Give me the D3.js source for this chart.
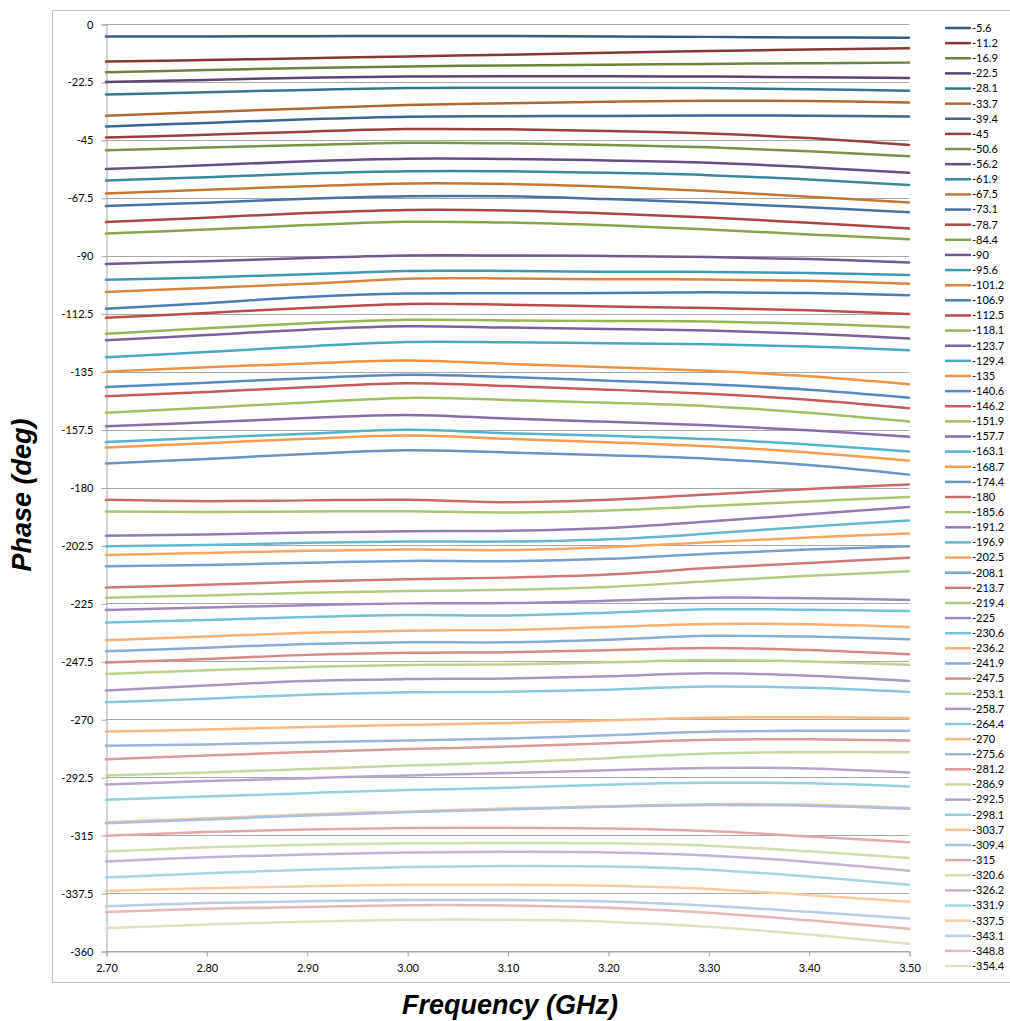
<!DOCTYPE html>
<html>
<head>
<meta charset="utf-8">
<script src="https://cdn.jsdelivr.net/npm/d3@7"></script>
<style>
body { margin: 0; background: #fff; }
text { font-family: Lato, "Liberation Sans", sans-serif; fill: #000; }
</style>
</head>
<body>
<script>
var freqs = [2.70, 2.80, 2.90, 3.00, 3.10, 3.20, 3.30, 3.40, 3.50];
var xTicks = [2.70, 2.80, 2.90, 3.00, 3.10, 3.20, 3.30, 3.40, 3.50];
var yTicks = [0, -22.5, -45, -67.5, -90, -112.5, -135, -157.5, -180, -202.5, -225, -247.5, -270, -292.5, -315, -337.5, -360];

var seriesNames = ["-5.6", "-11.2", "-16.9", "-22.5", "-28.1", "-33.7", "-39.4", "-45", "-50.6", "-56.2",
	"-61.9", "-67.5", "-73.1", "-78.7", "-84.4", "-90", "-95.6", "-101.2", "-106.9", "-112.5",
	"-118.1", "-123.7", "-129.4", "-135", "-140.6", "-146.2", "-151.9", "-157.7", "-163.1", "-168.7",
	"-174.4", "-180", "-185.6", "-191.2", "-196.9", "-202.5", "-208.1", "-213.7", "-219.4", "-225",
	"-230.6", "-236.2", "-241.9", "-247.5", "-253.1", "-258.7", "-264.4", "-270", "-275.6", "-281.2",
	"-286.9", "-292.5", "-298.1", "-303.7", "-309.4", "-315", "-320.6", "-326.2", "-331.9", "-337.5",
	"-343.1", "-348.8", "-354.4"];

// measured phase (deg) per series, one value per entry of freqs
var phaseRows = [
	[-4.9, -4.85, -4.75, -4.65, -4.7, -4.85, -5.0, -5.2, -5.3],
	[-14.6, -14.0, -13.3, -12.6, -11.9, -11.2, -10.5, -9.9, -9.4],
	[-18.7, -17.9, -17.1, -16.5, -16.1, -15.8, -15.5, -15.2, -15.0],
	[-22.5, -21.7, -20.9, -20.4, -20.3, -20.3, -20.4, -20.7, -21.0],
	[-27.4, -26.5, -25.6, -24.9, -24.8, -24.8, -24.9, -25.3, -25.9],
	[-35.6, -34.2, -32.8, -31.5, -30.8, -30.2, -29.8, -29.9, -30.5],
	[-39.8, -38.4, -37.0, -36.0, -35.8, -35.7, -35.5, -35.6, -35.9],
	[-44.1, -43.0, -41.8, -40.8, -40.9, -41.6, -42.5, -44.3, -47.0],
	[-49.0, -48.0, -47.0, -46.1, -46.3, -47.0, -47.9, -49.4, -51.4],
	[-56.3, -54.9, -53.3, -52.3, -52.4, -53.0, -53.9, -55.6, -57.8],
	[-60.8, -59.5, -58.1, -57.2, -57.2, -57.8, -58.7, -60.4, -62.5],
	[-65.8, -64.4, -63.0, -61.9, -62.1, -63.2, -64.9, -67.1, -69.3],
	[-70.7, -69.4, -67.9, -66.9, -66.9, -68.0, -69.4, -71.2, -73.1],
	[-76.9, -75.2, -73.4, -72.2, -72.4, -73.6, -75.1, -77.2, -79.4],
	[-81.4, -79.8, -78.1, -76.8, -77.1, -78.2, -79.8, -81.7, -83.6],
	[-93.2, -92.1, -90.9, -89.9, -89.9, -90.1, -90.5, -91.3, -92.6],
	[-99.3, -98.4, -97.2, -95.9, -95.9, -96.2, -96.3, -96.7, -97.5],
	[-104.1, -102.5, -100.9, -98.9, -98.8, -99.1, -99.2, -99.7, -100.9],
	[-110.6, -108.4, -106.0, -104.7, -104.6, -104.5, -104.2, -104.5, -105.3],
	[-114.1, -112.2, -110.3, -108.7, -109.0, -109.7, -110.3, -111.2, -112.6],
	[-120.3, -118.2, -116.2, -114.9, -115.1, -115.3, -115.5, -116.4, -117.8],
	[-122.8, -120.8, -118.7, -117.4, -117.9, -118.4, -119.0, -120.3, -122.1],
	[-129.4, -127.4, -125.2, -123.5, -123.6, -124.0, -124.4, -125.2, -126.7],
	[-135.0, -133.3, -131.8, -130.7, -132.0, -133.3, -134.7, -136.8, -139.9],
	[-141.0, -139.3, -137.6, -136.2, -137.1, -138.5, -139.9, -142.0, -145.1],
	[-144.6, -142.9, -141.1, -139.5, -140.6, -142.0, -143.6, -145.9, -149.2],
	[-151.0, -149.0, -147.0, -145.2, -146.0, -147.1, -148.4, -151.0, -154.4],
	[-156.2, -154.7, -153.0, -151.8, -153.2, -154.5, -155.8, -157.8, -160.3],
	[-162.3, -160.7, -159.1, -157.6, -158.9, -159.9, -161.2, -163.3, -166.0],
	[-164.5, -162.8, -161.1, -159.8, -161.1, -162.4, -164.0, -166.4, -169.6],
	[-170.7, -168.9, -167.0, -165.5, -166.4, -167.5, -168.8, -171.3, -175.0],
	[-184.8, -185.3, -185.0, -184.8, -185.7, -184.8, -182.7, -180.6, -178.8],
	[-189.3, -189.5, -189.3, -189.2, -189.7, -188.9, -187.2, -185.4, -183.7],
	[-198.7, -198.3, -197.5, -197.0, -196.8, -195.7, -193.2, -190.4, -187.6],
	[-202.8, -202.3, -201.5, -201.0, -201.0, -200.1, -197.9, -195.2, -192.8],
	[-206.2, -205.4, -204.6, -204.1, -204.3, -203.2, -201.3, -199.4, -197.9],
	[-210.6, -210.1, -209.2, -208.5, -208.6, -207.7, -205.7, -204.1, -202.8],
	[-218.8, -217.8, -216.5, -215.6, -215.0, -213.8, -211.3, -209.3, -207.3],
	[-222.8, -221.9, -220.9, -220.2, -219.7, -218.6, -216.4, -214.3, -212.5],
	[-227.6, -226.6, -225.7, -225.0, -224.9, -224.0, -222.8, -223.0, -223.7],
	[-232.4, -231.5, -230.3, -229.5, -229.7, -228.6, -227.3, -227.5, -228.0],
	[-239.3, -237.9, -236.4, -235.6, -235.3, -234.2, -233.0, -233.1, -234.2],
	[-243.6, -242.2, -240.8, -240.1, -240.1, -239.1, -237.6, -237.9, -238.9],
	[-248.0, -246.6, -245.0, -244.2, -244.0, -243.2, -242.3, -243.1, -244.8],
	[-252.4, -251.0, -249.7, -248.9, -248.7, -247.9, -247.0, -247.6, -248.8],
	[-258.8, -256.9, -255.1, -254.4, -254.2, -253.3, -252.1, -253.1, -255.1],
	[-263.4, -262.0, -260.5, -259.5, -259.3, -258.5, -257.3, -257.8, -259.4],
	[-274.8, -274.0, -273.0, -272.2, -271.5, -270.4, -269.4, -269.2, -269.5],
	[-280.3, -279.8, -278.9, -278.3, -277.5, -276.2, -274.9, -274.5, -274.5],
	[-285.5, -284.1, -282.7, -281.6, -280.6, -279.3, -278.0, -277.8, -278.3],
	[-291.8, -290.7, -289.3, -288.0, -286.8, -285.1, -283.3, -282.8, -282.8],
	[-295.3, -294.0, -292.9, -291.8, -290.9, -289.8, -288.9, -289.1, -290.7],
	[-301.3, -300.0, -298.7, -297.5, -296.6, -295.4, -294.7, -294.9, -296.1],
	[-310.0, -308.5, -307.0, -305.8, -304.7, -303.8, -303.0, -303.2, -304.5],
	[-310.4, -308.9, -307.4, -306.1, -305.0, -304.0, -303.3, -303.6, -304.8],
	[-315.2, -313.8, -312.8, -312.2, -312.1, -312.4, -313.4, -315.5, -317.8],
	[-321.4, -319.7, -318.7, -318.2, -318.1, -318.2, -319.1, -321.3, -323.9],
	[-325.2, -323.6, -322.5, -321.7, -321.5, -321.7, -322.9, -325.4, -328.8],
	[-331.5, -329.8, -328.4, -327.4, -327.0, -327.2, -328.4, -331.1, -334.3],
	[-336.7, -335.6, -334.9, -334.3, -334.3, -334.7, -335.9, -338.3, -340.9],
	[-342.6, -341.4, -340.7, -340.2, -340.2, -340.8, -342.4, -344.8, -347.4],
	[-344.9, -343.6, -342.9, -342.2, -342.3, -343.2, -345.1, -348.1, -351.4],
	[-351.1, -349.7, -348.6, -347.9, -347.9, -348.6, -350.6, -353.6, -357.2]
];

var baseColors = ["#4F81BD", "#C0504D", "#9BBB59", "#8064A2", "#4BACC6", "#F79646"];

// office style: every group of 6 series gets a lighter shade of the same accents
function seriesColor(i) {
	var c = d3.rgb(baseColors[i % 6]);
	var s = -0.3 + 0.09 * Math.floor(i / 6);
	if (s < 0) {
		return d3.rgb(c.r * (1 + s), c.g * (1 + s), c.b * (1 + s)).formatHex();
	}
	return d3.rgb(c.r + (255 - c.r) * s, c.g + (255 - c.g) * s, c.b + (255 - c.b) * s).formatHex();
}

var width = 1010;
var height = 1021;

var svg = d3.select("body").append("svg")
	.attr("width", width)
	.attr("height", height);

// chart frame
svg.append("rect")
	.attr("x", 52.5)
	.attr("y", 10.5)
	.attr("width", 1000)
	.attr("height", 972)
	.attr("fill", "none")
	.attr("stroke", "#bfbfbf");

var x = d3.scaleLinear().domain([2.7, 3.5]).range([106, 909]);
var y = d3.scaleLinear().domain([0, -360]).range([24, 951]);

// gridlines
svg.append("g")
	.selectAll("line")
	.data(yTicks)
	.enter()
	.append("line")
	.attr("x1", x(2.7))
	.attr("x2", x(3.5))
	.attr("y1", function(d) { return Math.round(y(d)) + 0.5; })
	.attr("y2", function(d) { return Math.round(y(d)) + 0.5; })
	.attr("stroke", "#a6a6a6")
	.attr("stroke-width", 1);

// y axis
var yAxis = d3.axisLeft(y)
	.tickValues(yTicks)
	.tickSize(5)
	.tickPadding(8)
	.tickFormat(function(d) { return String(d); });

var gy = svg.append("g")
	.attr("transform", "translate(" + (x(2.7) + 0.5) + ",0.5)")
	.call(yAxis);

// x axis
var xAxis = d3.axisBottom(x)
	.tickValues(xTicks)
	.tickSize(5)
	.tickPadding(8)
	.tickFormat(d3.format(".2f"));

var gx = svg.append("g")
	.attr("transform", "translate(0.5," + (Math.round(y(-360)) + 0.5) + ")")
	.call(xAxis);

[gx, gy].forEach(function(g) {
	g.select(".domain").attr("stroke", "#a6a6a6");
	g.selectAll(".tick line").attr("stroke", "#a6a6a6");
	g.selectAll(".tick text")
		.style("font-family", "Lato, 'Liberation Sans', sans-serif")
		.style("font-size", "11px")
		.attr("fill", "#000");
});

// series lines
var line = d3.line()
	.x(function(d, i) { return x(freqs[i]); })
	.y(function(d) { return y(d); })
	.curve(d3.curveCatmullRom.alpha(0.5));

svg.append("g")
	.selectAll("path")
	.data(phaseRows)
	.enter()
	.append("path")
	.attr("d", line)
	.attr("fill", "none")
	.attr("stroke", function(d, i) { return seriesColor(i); })
	.attr("stroke-width", 2.5)
	.attr("stroke-linecap", "round");

// legend
var legend = svg.append("g")
	.selectAll("g")
	.data(seriesNames)
	.enter()
	.append("g")
	.attr("transform", function(d, i) { return "translate(945," + (28 + i * 15.13) + ")"; });

legend.append("line")
	.attr("x1", 0)
	.attr("x2", 26)
	.attr("stroke", function(d, i) { return seriesColor(i); })
	.attr("stroke-width", 2.5);

legend.append("text")
	.attr("x", 27)
	.attr("dy", "0.35em")
	.style("font-size", "11px")
	.text(function(d) { return d; });

// axis titles
svg.append("text")
	.attr("transform", "translate(31," + 495 + ") rotate(-90)")
	.attr("text-anchor", "middle")
	.style("font-family", "'Liberation Sans', Arial, sans-serif")
	.style("font-size", "27px")
	.style("font-weight", "bold")
	.style("font-style", "italic")
	.text("Phase (deg)");

svg.append("text")
	.attr("x", 510)
	.attr("y", 1014)
	.attr("text-anchor", "middle")
	.style("font-family", "'Liberation Sans', Arial, sans-serif")
	.style("font-size", "27px")
	.style("font-weight", "bold")
	.style("font-style", "italic")
	.text("Frequency (GHz)");
</script>
</body>
</html>
